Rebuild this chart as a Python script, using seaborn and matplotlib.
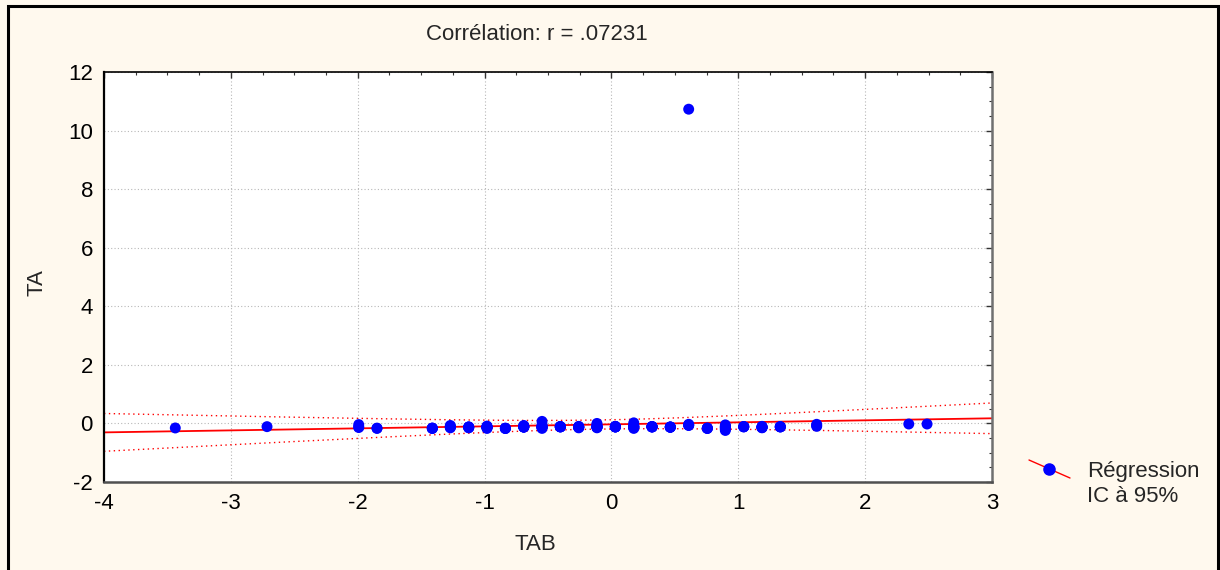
import numpy as np
import pandas as pd
import matplotlib
matplotlib.use("Agg")
import matplotlib.pyplot as plt
from matplotlib.lines import Line2D
from matplotlib.patches import Rectangle
from matplotlib.ticker import MultipleLocator
import seaborn as sns

# Standardised TAB score (x) and TA value (y) for each subject
tab = [
    -3.438,
    -2.715,
    -1.992, -1.992, -1.992,
    -1.848, -1.848,
    -1.412, -1.412, -1.412, -1.412,
    -1.270, -1.270, -1.270, -1.270, -1.270,
    -1.125, -1.125, -1.125, -1.125, -1.125,
    -0.981, -0.981, -0.981, -0.981, -0.981, -0.981, -0.981, -0.981,
    -0.836, -0.836, -0.836, -0.836,
    -0.691, -0.691, -0.691, -0.691, -0.691, -0.691, -0.691, -0.691,
    -0.547, -0.547, -0.547, -0.547, -0.547, -0.547, -0.547, -0.547, -0.547,
    -0.403, -0.403, -0.403, -0.403, -0.403, -0.403,
    -0.258, -0.258, -0.258, -0.258, -0.258, -0.258, -0.258, -0.258,
    -0.114, -0.114, -0.114, -0.114, -0.114, -0.114, -0.114, -0.114, -0.114,
    0.031, 0.031, 0.031, 0.031, 0.031, 0.031, 0.031, 0.031,
    0.176, 0.176, 0.176, 0.176, 0.176, 0.176, 0.176, 0.176, 0.176,
    0.320, 0.320, 0.320, 0.320, 0.320, 0.320, 0.320,
    0.464, 0.464, 0.464, 0.464, 0.464,
    0.609, 0.609, 0.609, 0.609, 0.609,
    0.756, 0.756, 0.756, 0.756,
    0.898, 0.898, 0.898, 0.898, 0.898, 0.898, 0.898, 0.898,
    1.043, 1.043, 1.043, 1.043,
    1.187, 1.187, 1.187, 1.187, 1.187, 1.187,
    1.331, 1.331, 1.331, 1.331,
    1.618, 1.618, 1.618,
    2.344,
    2.488,
]
ta = [
    -0.155,
    -0.11,
    -0.04, -0.14, -0.12,
    -0.17, -0.16,
    -0.17, -0.16, -0.17, -0.16,
    -0.07, -0.15, -0.11, -0.12, -0.13,
    -0.12, -0.15, -0.13, -0.12, -0.14,
    -0.09, -0.17, -0.12, -0.14, -0.13, -0.12, -0.15, -0.12,
    -0.17, -0.17, -0.16, -0.17,
    -0.07, -0.13, -0.10, -0.11, -0.12, -0.11, -0.12, -0.12,
    0.07, -0.17, -0.05, -0.10, -0.13, -0.12, -0.11, -0.14, -0.12,
    -0.11, -0.11, -0.12, -0.11, -0.12, -0.11,
    -0.10, -0.15, -0.12, -0.13, -0.12, -0.13, -0.12, -0.12,
    0.00, -0.15, -0.06, -0.10, -0.12, -0.11, -0.12, -0.13, -0.12,
    -0.11, -0.11, -0.10, -0.12, -0.11, -0.12, -0.11, -0.12,
    0.02, -0.17, -0.05, -0.10, -0.13, -0.12, -0.11, -0.14, -0.12,
    -0.11, -0.11, -0.12, -0.11, -0.12, -0.11, -0.12,
    -0.13, -0.13, -0.12, -0.13, -0.12,
    10.73, -0.07, -0.03, -0.06, -0.05,
    -0.17, -0.16, -0.17, -0.16,
    -0.05, -0.24, -0.12, -0.18, -0.15, -0.20, -0.10, -0.12,
    -0.11, -0.11, -0.12, -0.11,
    -0.10, -0.15, -0.13, -0.12, -0.14, -0.13,
    -0.11, -0.11, -0.12, -0.12,
    -0.03, -0.10, -0.07,
    -0.02,
    -0.02,
]

x_ticks = [-4, -3, -2, -1, 0, 1, 2, 3]
y_ticks = [-2, 0, 2, 4, 6, 8, 10, 12]

df = pd.DataFrame({"TAB": tab, "TA": ta})

sns.set_theme(style="white")
plt.rcParams["font.family"] = ["Liberation Sans", "DejaVu Sans"]

FS = 16
cream = "#FFF9EE"
fig = plt.figure(figsize=(12.2, 5.7), dpi=100, facecolor=cream)
ax = fig.add_axes([104 / 1220, 1 - 482 / 570, 888 / 1220, 410 / 570])
ax.set_facecolor("white")

# Least-squares fit and 95% confidence band of the mean
x = df["TAB"].to_numpy()
y = df["TA"].to_numpy()
n = len(x)
slope, intercept = np.polyfit(x, y, 1)
resid = y - (intercept + slope * x)
s = np.sqrt(np.sum(resid ** 2) / (n - 2))
sxx = np.sum((x - x.mean()) ** 2)
t_crit = 1.978
xs = np.linspace(-4, 3, 200)
fit = intercept + slope * xs
half = t_crit * s * np.sqrt(1 / n + (xs - x.mean()) ** 2 / sxx)

ax.grid(True, color="#b8b8b8", linestyle=(0, (1, 2)), linewidth=0.8)
ax.set_axisbelow(True)

sns.lineplot(x=xs, y=fit, ax=ax, color="red", linewidth=1.3, zorder=2)
sns.lineplot(x=xs, y=fit + half, ax=ax, color="red", linewidth=1.0,
             linestyle=(0, (1, 2.5)), zorder=2)
sns.lineplot(x=xs, y=fit - half, ax=ax, color="red", linewidth=1.0,
             linestyle=(0, (1, 2.5)), zorder=2)
sns.scatterplot(data=df, x="TAB", y="TA", ax=ax, color="#0000FF", s=62,
                edgecolor="none", linewidth=0, zorder=3)

ax.set_xlim(-4, 3)
ax.set_ylim(-2, 12)
ax.set_xticks(x_ticks)
ax.set_yticks(y_ticks)
ax.set_xticklabels([str(v) for v in x_ticks])
ax.set_yticklabels([str(v) for v in y_ticks])
ax.xaxis.set_minor_locator(MultipleLocator(0.25))
ax.yaxis.set_minor_locator(MultipleLocator(0.5))
ax.tick_params(which="both", direction="in", top=True, right=True,
               labelsize=FS, colors="#333333", labelcolor="black")
ax.tick_params(which="major", length=4, width=1, pad=8)
ax.tick_params(which="minor", length=2.5, width=0.8)
ax.set_xlabel("TAB", fontsize=FS)
ax.set_ylabel("TA", fontsize=FS)
ax.xaxis.set_label_coords((535 - 104) / 888, (482 - 545) / 410)
ax.xaxis.label.set_va("center")
ax.yaxis.set_label_coords((37 - 104) / 888, (482 - 283) / 410)
ax.yaxis.label.set_va("center")

for side, col, lw in [("left", "black", 1.6), ("top", "black", 1.2),
                      ("bottom", "#505050", 1.8), ("right", "#707070", 1.8)]:
    ax.spines[side].set_visible(True)
    ax.spines[side].set_color(col)
    ax.spines[side].set_linewidth(lw)

fig.text(537 / 1220, 1 - 34 / 570, "Corrélation: r = .07231", fontsize=FS,
         ha="center", va="center")

# Legend key drawn in figure space
fig.add_artist(Line2D([1029 / 1220, 1070 / 1220], [1 - 460 / 570, 1 - 478 / 570],
                      transform=fig.transFigure, color="red", linewidth=1.0))
fig.add_artist(Line2D([1049 / 1220], [1 - 469 / 570], transform=fig.transFigure,
                      marker="o", markersize=8, color="#0000FF", linestyle="none"))
fig.text(1087 / 1220, 1 - 472 / 570, "Régression", fontsize=FS, ha="left", va="center")
fig.text(1087 / 1220, 1 - 497 / 570, "IC à 95%", fontsize=FS, ha="left", va="center")

# Frame around the figure
fig.add_artist(Rectangle((8 / 1220, -0.05), 1210 / 1220, 1.05 - 6 / 570,
                         transform=fig.transFigure, fill=False,
                         edgecolor="black", linewidth=2.2))

fig.savefig("out.png", dpi=100, facecolor=cream)
